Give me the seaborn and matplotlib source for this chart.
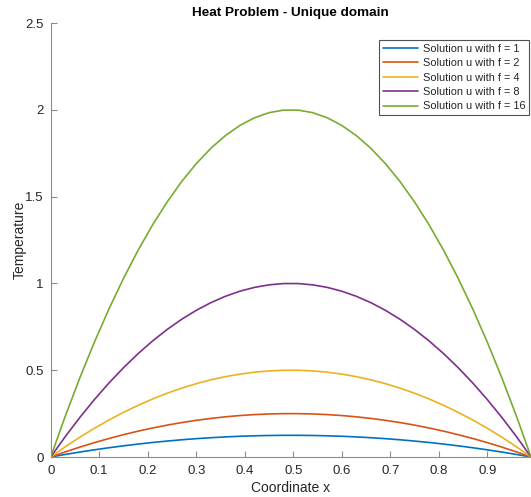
import numpy as np
import pandas as pd
import matplotlib
matplotlib.use("Agg")
import matplotlib.pyplot as plt
import seaborn as sns

# ---- data ----
x = [0.00, 0.03, 0.06, 0.09, 0.12, 0.15, 0.18, 0.21, 0.24, 0.27, 0.30, 0.33,
     0.36, 0.39, 0.42, 0.45, 0.48, 0.51, 0.54, 0.57, 0.60, 0.63, 0.66, 0.69,
     0.72, 0.75, 0.78, 0.81, 0.84, 0.87, 0.90, 0.93, 0.96, 0.99]

u_f1 = [0, .0147, .0285, .0413, .0533, .0643, .0744, .0836, .0918, .0992, .1056, .1111,
        .1157, .1194, .1221, .1240, .1249, .1249, .1240, .1221, .1194, .1157, .1111, .1056,
        .0992, .0918, .0836, .0744, .0643, .0533, .0413, .0285, .0147, 0]
u_f2 = [0, .0294, .0569, .0826, .1065, .1286, .1488, .1671, .1837, .1983, .2112, .2222,
        .2314, .2388, .2443, .2479, .2498, .2498, .2479, .2443, .2388, .2314, .2222, .2112,
        .1983, .1837, .1671, .1488, .1286, .1065, .0826, .0569, .0294, 0]
u_f4 = [0, .0588, .1139, .1653, .2130, .2571, .2975, .3343, .3673, .3967, .4224, .4444,
        .4628, .4775, .4885, .4959, .4995, .4995, .4959, .4885, .4775, .4628, .4444, .4224,
        .3967, .3673, .3343, .2975, .2571, .2130, .1653, .1139, .0588, 0]
u_f8 = [0, .1175, .2277, .3306, .4261, .5142, .5950, .6685, .7346, .7934, .8448, .8889,
        .9256, .9550, .9770, .9917, .9991, .9991, .9917, .9770, .9550, .9256, .8889, .8448,
        .7934, .7346, .6685, .5950, .5142, .4261, .3306, .2277, .1175, 0]
u_f16 = [0, .2351, .4555, .6612, .8522, 1.0285, 1.1901, 1.3370, 1.4692, 1.5868, 1.6896, 1.7778,
         1.8512, 1.9100, 1.9541, 1.9835, 1.9982, 1.9982, 1.9835, 1.9541, 1.9100, 1.8512, 1.7778, 1.6896,
         1.5868, 1.4692, 1.3370, 1.1901, 1.0285, .8522, .6612, .4555, .2351, 0]

labels = ["Solution u with f = 1", "Solution u with f = 2", "Solution u with f = 4",
          "Solution u with f = 8", "Solution u with f = 16"]
series = [u_f1, u_f2, u_f4, u_f8, u_f16]
colors = ["#0072BD", "#D95319", "#EDB120", "#7E2F8E", "#77AC30"]

xticks = [0, 0.1, 0.2, 0.3, 0.4, 0.5, 0.6, 0.7, 0.8, 0.9]
xticklabels = ["0", "0.1", "0.2", "0.3", "0.4", "0.5", "0.6", "0.7", "0.8", "0.9"]
yticks = [0, 0.5, 1, 1.5, 2, 2.5]
yticklabels = ["0", "0.5", "1", "1.5", "2", "2.5"]

df = pd.concat([pd.DataFrame({"x": x, "u": s, "series": lab}) for s, lab in zip(series, labels)],
               ignore_index=True)

sns.set_style("ticks")
plt.rcParams["font.family"] = ["Liberation Sans", "DejaVu Sans"]

W, H = 531, 497
fig = plt.figure(figsize=(W / 100, H / 100), dpi=100)
ax = fig.add_axes([50.7 / W, 40 / H, (531 - 50.7) / W, 434 / H])

sns.lineplot(data=df, x="x", y="u", hue="series", hue_order=labels,
             palette=colors, linewidth=1.2, ax=ax, estimator=None, sort=False)

ax.set_xlim(0, 0.99)
ax.set_ylim(0, 2.5)
ax.set_xticks(xticks)
ax.set_xticklabels(xticklabels)
ax.set_yticks(yticks)
ax.set_yticklabels(yticklabels)

for s in ["top", "right"]:
    ax.spines[s].set_visible(False)
for s in ["left", "bottom"]:
    ax.spines[s].set_color("#8c8c8c")
    ax.spines[s].set_linewidth(0.8)
ax.tick_params(direction="in", length=4, width=0.8, color="#8c8c8c",
               labelsize=9.5, labelcolor="#262626", pad=5)
ax.tick_params(axis="x", pad=6)

ax.set_title("Heat Problem - Unique domain", fontsize=9.7, fontweight="bold",
             color="#000000", pad=5)
ax.set_xlabel("Coordinate x", fontsize=10, color="#262626", labelpad=3)
ax.set_ylabel("Temperature", fontsize=10, color="#262626", labelpad=-1)

leg = ax.legend(loc="upper right", bbox_to_anchor=(529 / W, 1 - 40 / H),
                bbox_transform=fig.transFigure, borderaxespad=0, fontsize=7.9,
                frameon=True, fancybox=False, edgecolor="#262626",
                handlelength=3.2, handletextpad=0.4, labelspacing=0.4,
                borderpad=0.35, title=None)
leg.get_frame().set_linewidth(0.8)

fig.savefig("out.png", dpi=100)
